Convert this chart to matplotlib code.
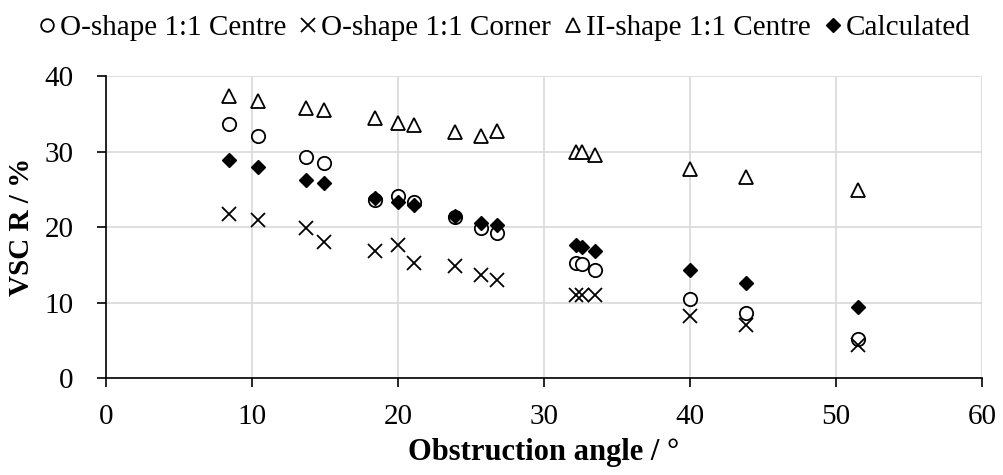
import matplotlib.pyplot as plt

plt.rcParams['font.family'] = ['Liberation Serif', 'DejaVu Serif']

# obstruction angle (degrees) for each measured position
angle = [8.4, 10.4, 13.7, 14.9, 18.4, 20.0, 21.1, 23.9, 25.7, 26.8,
         32.2, 32.6, 33.5, 40.0, 43.8, 51.5]

# VSC R (%) per configuration
o_centre = [33.6, 32.0, 29.3, 28.5, 23.6, 24.1, 23.3, 21.3, 19.9, 19.2,
            15.3, 15.1, 14.3, 10.5, 8.6, 5.2]
o_corner = [21.7, 21.0, 19.9, 18.0, 16.9, 17.7, 15.3, 14.8, 13.7, 13.0,
            11.0, 11.0, 11.0, 8.2, 7.0, 4.4]
ii_centre = [37.3, 36.7, 35.7, 35.5, 34.4, 33.8, 33.5, 32.6, 32.0, 32.7,
             30.0, 29.9, 29.5, 27.7, 26.7, 24.9]
calculated = [28.9, 28.0, 26.3, 25.8, 23.9, 23.3, 22.9, 21.5, 20.6, 20.3,
              17.6, 17.4, 16.9, 14.3, 12.6, 9.4]

fig = plt.figure(figsize=(10.04, 4.75), dpi=100)
ax = fig.add_axes([0.1059, 0.2036, 0.8721, 0.6364])

ax.plot(angle, o_centre, 'o', ms=9.6, mfc='white', mec='black', mew=1.3,
        label='O-shape 1:1 Centre', zorder=3)
ax.plot(angle, o_corner, 'x', ms=10, mec='black', mew=1.3,
        label='O-shape 1:1 Corner', zorder=3)
ax.plot(angle, ii_centre, '^', ms=10, mfc='white', mec='black', mew=1.3,
        label='II-shape 1:1 Centre', zorder=3)
ax.plot(angle, calculated, 'D', ms=7.5, mfc='black', mec='black', mew=1,
        label='Calculated', zorder=4)

ax.set_xlim(0, 60)
ax.set_ylim(0, 40)
ax.set_xticks(range(0, 61, 10))
ax.set_yticks(range(0, 41, 10))
ax.grid(True, color='#d9d9d9', lw=1.2, zorder=0)
ax.set_axisbelow(True)
for s in ['top', 'right']:
    ax.spines[s].set_visible(False)
for s in ['left', 'bottom']:
    ax.spines[s].set_linewidth(1.2)
ax.tick_params(labelsize=21, direction='out', length=6.5, width=1.2)
ax.tick_params(axis='x', pad=12)
ax.tick_params(axis='y', pad=17)

ax.set_xlabel('Obstruction angle / °', fontsize=22, fontweight='bold', labelpad=6)
ax.set_ylabel('VSC R / %', fontsize=21, fontweight='bold', labelpad=7)

fig.legend(loc='upper center', bbox_to_anchor=(0.5, 1.025), ncol=4,
           frameon=False, fontsize=21, handletextpad=0.0, columnspacing=0.3,
           handlelength=0.9, markerscale=0.95)

fig.savefig('out.png', dpi=100)
